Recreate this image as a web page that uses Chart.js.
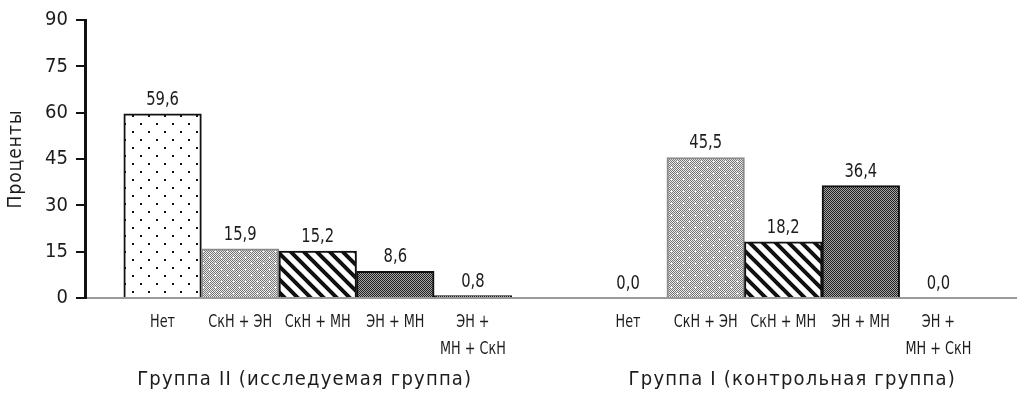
<!DOCTYPE html>
<html>
<head>
<meta charset="utf-8">
<script src="https://cdn.jsdelivr.net/npm/chart.js@4.4.0/dist/chart.umd.min.js"></script>
<style>
html, body { margin: 0; padding: 0; background: #fff; }
#wrap { width: 1024px; height: 393px; }
</style>
</head>
<body>
<div id="wrap"><canvas id="chart_groups"></canvas></div>
<script>
var categories = ['Нет', 'СкН + ЭН', 'СкН + МН', 'ЭН + МН', ['ЭН +', 'МН + СкН']];
var groupNames = ['Группа II (исследуемая группа)', 'Группа I (контрольная группа)'];
var groupII = [59.6, 15.9, 15.2, 8.6, 0.8];
var groupI = [0.0, 45.5, 18.2, 36.4, 0.0];
var yTicks = [0, 15, 30, 45, 60, 75, 90];
var yTitle = 'Проценты';

var fontFamily = "'DejaVu Sans Condensed', 'DejaVu Sans', sans-serif";
var textColor = '#1c1c1c';

// each group takes 5 slots, one empty slot between groups
var groupValues = [groupII, groupI];
var groupStart = [1, 7];
var groupLabelShift = [-13, 9];

function makeTile(w, h, draw) {
    let c = document.createElement('canvas');
    c.width = w;
    c.height = h;
    let cx = c.getContext('2d');
    draw(cx, w, h);
    return cx.createPattern(c, 'repeat');
}

function checker(a, b) {
    return function (cx, w, h) {
        for (let y = 0; y < h; y++)
            for (let x = 0; x < w; x++) {
                cx.fillStyle = (x + y) % 2 === 0 ? a : b;
                cx.fillRect(x, y, 1, 1);
            }
    };
}

var dotsPattern = makeTile(16, 16, function (cx, w, h) {
    cx.fillStyle = '#fff';
    cx.fillRect(0, 0, w, h);
    cx.fillStyle = '#111';
    cx.fillRect(4, 3, 2, 2);
    cx.fillRect(12, 11, 2, 2);
});

var lightPattern = makeTile(12, 12, function (cx, w, h) {
    checker('#767676', '#ececec')(cx, w, h);
    cx.fillStyle = '#fff';
    cx.fillRect(5, 5, 1, 1);
    cx.fillRect(11, 11, 1, 1);
});

var stripePattern = makeTile(13, 13, function (cx, w, h) {
    cx.fillStyle = '#fff';
    cx.fillRect(0, 0, w, h);
    cx.strokeStyle = '#111';
    cx.lineWidth = 4;
    cx.beginPath();
    for (let k = -1; k <= 1; k++) {
        cx.moveTo(k * w - 2, -2);
        cx.lineTo(k * w + w + 2, h + 2);
    }
    cx.stroke();
});

var darkPattern = makeTile(2, 2, checker('#1e1e1e', '#a8a8a8'));

var fills = [dotsPattern, lightPattern, stripePattern, darkPattern, darkPattern];
var borders = ['#111', '#8c8c8c', '#111', '#111', '#111'];

var points = [];
var bgColors = [];
var borderColors = [];
for (let g = 0; g < groupValues.length; g++) {
    for (let i = 0; i < groupValues[g].length; i++) {
        points.push({x: groupStart[g] + i, y: groupValues[g][i]});
        bgColors.push(fills[i]);
        borderColors.push(borders[i]);
    }
}

// the original uses a narrow DIN-like face, so squeeze the text horizontally
function narrowText(ctx, text, x, y, sx) {
    ctx.save();
    ctx.translate(x, y);
    ctx.scale(sx, 1);
    ctx.fillText(text, 0, 0);
    ctx.restore();
}

var valueLabels = {
    id: 'valueLabels',
    afterDatasetsDraw: function (chart) {
        let ctx = chart.ctx;
        let meta = chart.getDatasetMeta(0);
        ctx.save();
        ctx.font = '20px ' + fontFamily;
        ctx.fillStyle = textColor;
        ctx.textAlign = 'center';
        ctx.textBaseline = 'alphabetic';
        meta.data.forEach(function (bar, i) {
            let v = points[i].y;
            narrowText(ctx, v.toFixed(1).replace('.', ','), bar.x, bar.y - 9, 0.82);
        });
        ctx.restore();
    }
};

var axisTexts = {
    id: 'axisTexts',
    afterDraw: function (chart) {
        let ctx = chart.ctx;
        let xs = chart.scales.x;
        let area = chart.chartArea;
        ctx.save();
        ctx.fillStyle = textColor;
        ctx.textAlign = 'center';
        ctx.textBaseline = 'alphabetic';

        // category labels under each bar
        ctx.font = '18px ' + fontFamily;
        for (let g = 0; g < groupStart.length; g++) {
            for (let i = 0; i < categories.length; i++) {
                let lines = [].concat(categories[i]);
                let px = xs.getPixelForValue(groupStart[g] + i);
                for (let l = 0; l < lines.length; l++)
                    narrowText(ctx, lines[l], px, area.bottom + 29 + l * 27, 0.79);
            }
        }

        // group names
        ctx.font = '20px ' + fontFamily;
        ctx.letterSpacing = '1.2px';
        for (let g = 0; g < groupNames.length; g++) {
            let mid = groupStart[g] + (groupValues[g].length - 1) / 2;
            ctx.fillText(groupNames[g], xs.getPixelForValue(mid) + groupLabelShift[g], 385);
        }

        // y title
        ctx.font = '19px ' + fontFamily;
        ctx.letterSpacing = '1px';
        ctx.textBaseline = 'middle';
        ctx.translate(16, (area.top + area.bottom) / 2);
        ctx.rotate(-Math.PI / 2);
        ctx.fillText(yTitle, 0, 0);
        ctx.restore();
    }
};

var chart = new Chart(document.getElementById('chart_groups').getContext('2d'), {
    type: 'bar',
    data: {
        datasets: [{
            data: points,
            backgroundColor: bgColors,
            borderColor: borderColors,
            borderWidth: 2,
            barPercentage: 1,
            categoryPercentage: 1
        }]
    },
    plugins: [valueLabels, axisTexts],
    options: {
        responsive: true,
        maintainAspectRatio: false,
        animation: false,
        devicePixelRatio: 1,
        layout: {
            padding: {top: 17, right: 8, left: 0, bottom: 0}
        },
        plugins: {
            legend: {display: false},
            tooltip: {enabled: false}
        },
        scales: {
            x: {
                type: 'linear',
                min: 0,
                max: 12,
                offset: false,
                afterFit: function (scale) { scale.height = 95; },
                grid: {display: false, drawTicks: false},
                border: {display: true, color: '#9a9a9a', width: 2},
                ticks: {display: false, stepSize: 1}
            },
            y: {
                min: yTicks[0],
                max: yTicks[yTicks.length - 1],
                afterFit: function (scale) { scale.width = 85; },
                afterBuildTicks: function (scale) {
                    scale.ticks = yTicks.map(function (v) { return {value: v}; });
                },
                grid: {drawOnChartArea: false, drawTicks: true, tickLength: 9, color: '#111', lineWidth: 2},
                border: {display: true, color: '#111', width: 3},
                ticks: {
                    padding: 8,
                    color: textColor,
                    font: {family: fontFamily, size: 20}
                }
            }
        }
    }
});
</script>
</body>
</html>
